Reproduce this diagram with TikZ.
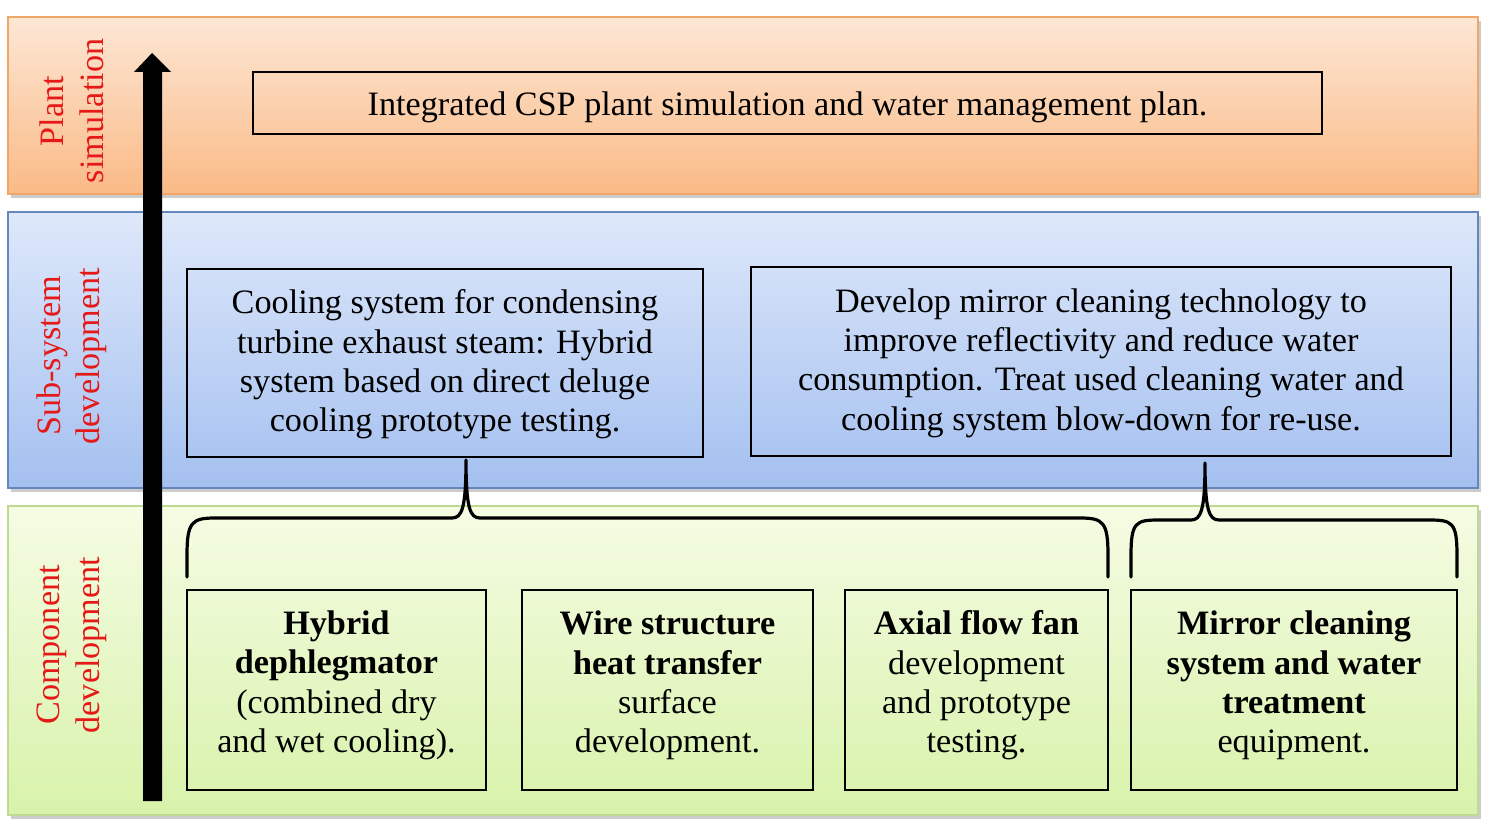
\documentclass[tikz,border=0pt]{standalone}
\usepackage{fontspec}
\setmainfont{Liberation Serif}
\usetikzlibrary{shadows}
\definecolor{orTop}{RGB}{253,231,213}
\definecolor{orBot}{RGB}{250,186,134}
\definecolor{orLine}{RGB}{240,165,105}
\definecolor{blTop}{RGB}{222,232,250}
\definecolor{blBot}{RGB}{164,192,240}
\definecolor{blLine}{RGB}{100,135,190}
\definecolor{grTop}{RGB}{245,252,228}
\definecolor{grBot}{RGB}{216,242,170}
\definecolor{grLine}{RGB}{190,218,145}
\definecolor{lblRed}{RGB}{230,25,25}
\begin{document}
\begin{tikzpicture}[x=1pt,y=-1pt,
  band/.style={draw, line width=1.2pt, drop shadow={shadow xshift=3pt, shadow yshift=-4pt, opacity=0.4}},
  lbl/.style={text=lblRed, align=center, rotate=90, font=\fontsize{34.2}{39.5}\selectfont},
  box/.style={draw=black, line width=2.2pt, inner sep=0pt},
  txt/.style={align=center, font=\fontsize{34.2}{39.4}\selectfont, inner sep=0pt},
  brace/.style={draw=black, line width=3.2pt, line cap=round, line join=round}
]
\useasboundingbox (0,0) rectangle (1485,832);
\fill[white] (0,0) rectangle (1485,832);
% bands
\path[band, draw=orLine, top color=orTop, bottom color=orBot] (8,17) rectangle (1478,194);
\path[band, draw=blLine, top color=blTop, bottom color=blBot] (8,212) rectangle (1478,488);
\path[band, draw=grLine, top color=grTop, bottom color=grBot] (8,506) rectangle (1478,815);
% band labels
\node[lbl] (lplant) at (72,111) {Plant\\simulation};
\node[lbl] (lsub) at (72,356) {Sub-system\\development};
\node[lbl] (lcomp) at (72,645) {Component\\development};
% big arrow
\fill[black] (143,801) -- (143,72) -- (134,72) -- (152,53) -- (171,72) -- (162,72) -- (162,801) -- cycle;
% top box
\node[box, minimum width=1069pt, minimum height=62pt] (plan) at (787.5,103) {};
\node[txt] (plant) at (787.5,107) {Integrated CSP plant simulation and water management plan.};
% subsystem boxes
\node[box, minimum width=516pt, minimum height=188pt] (cool) at (445,363) {};
\node[txt] (coolt) at (445,364.5) {Cooling system for condensing\\turbine exhaust steam: Hybrid\\system based on direct deluge\\cooling prototype testing.};
\node[box, minimum width=700pt, minimum height=189pt] (mirror) at (1101,361.5) {};
\node[txt] (mirrort) at (1101,363) {Develop mirror cleaning technology to\\improve reflectivity and reduce water\\consumption. Treat used cleaning water and\\cooling system blow-down for re-use.};
% component boxes
\node[box, minimum width=299pt, minimum height=200pt] (c1) at (336.5,690) {};
\node[box, minimum width=291pt, minimum height=200pt] (c2) at (667.5,690) {};
\node[box, minimum width=263pt, minimum height=200pt] (c3) at (976.5,690) {};
\node[box, minimum width=326pt, minimum height=200pt] (c4) at (1294,690) {};
\node[txt] (c1t) at (336.5,685.5) {\textbf{Hybrid}\\\textbf{dephlegmator}\\(combined dry\\and wet cooling).};
\node[txt] (c2t) at (667.5,685.5) {\textbf{Wire structure}\\\textbf{heat transfer}\\surface\\development.};
\node[txt] (c3t) at (976.5,685.5) {\textbf{Axial flow fan}\\development\\and prototype\\testing.};
\node[txt] (c4t) at (1294,685.5) {\textbf{Mirror cleaning}\\\textbf{system and water}\\\textbf{treatment}\\equipment.};
% braces
\coordinate (b1tip) at (466,460);
\coordinate (b2tip) at (1205,463);
\draw[brace] (187,577) -- (187,555) .. controls (187,522) and (192,518) .. (215,518)
  -- (452,518) .. controls (462,518) and (466,508) .. (b1tip)
  .. controls (466,508) and (470,518) .. (480,518)
  -- (1080,518) .. controls (1103,518) and (1108,522) .. (1108,555) -- (1108,577);
\draw[brace] (1131,577) -- (1131,555) .. controls (1131,522) and (1136,520) .. (1159,520)
  -- (1191,520) .. controls (1201,520) and (1205,510) .. (b2tip)
  .. controls (1205,510) and (1209,520) .. (1219,520)
  -- (1429,520) .. controls (1452,520) and (1457,522) .. (1457,555) -- (1457,577);
\end{tikzpicture}
\end{document}
